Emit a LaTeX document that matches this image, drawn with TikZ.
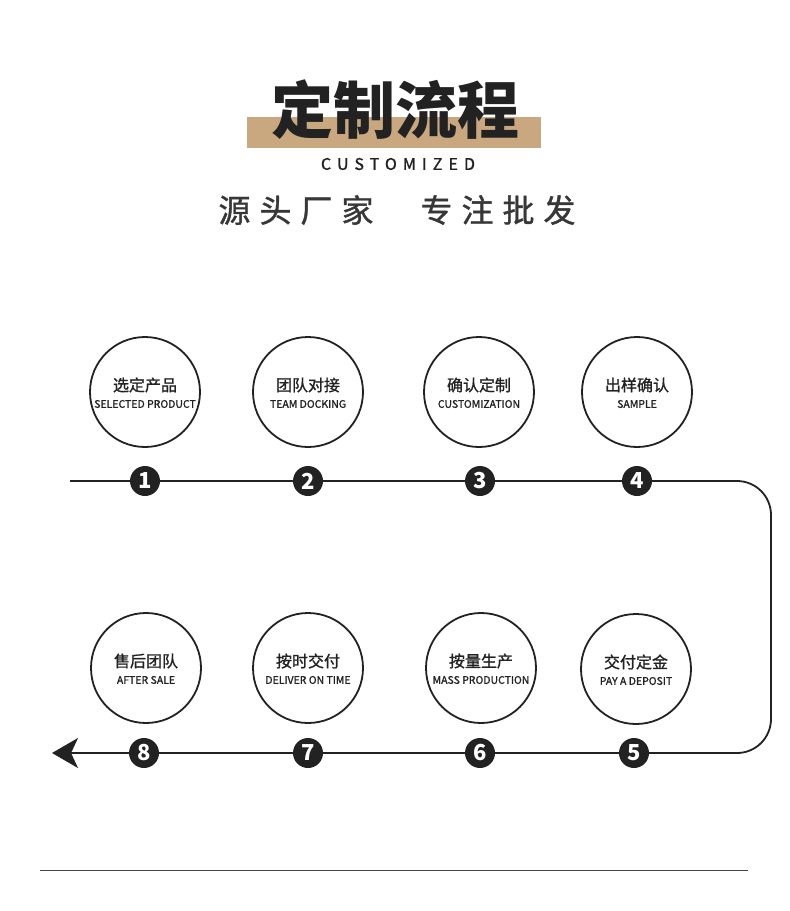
\documentclass[tikz,border=0pt]{standalone}
\usepackage{fontspec}
\usetikzlibrary{arrows.meta}
\newfontfamily\cjk{Noto Sans CJK SC}
\newfontfamily\cjkm[FakeBold=1.2]{Noto Sans CJK SC}
\definecolor{tan}{RGB}{201,168,128}
\definecolor{ink}{RGB}{34,34,34}
\definecolor{sub}{RGB}{55,55,55}
\tikzset{
  stepcircle/.style={circle,draw=ink,line width=1.8pt,minimum size=110pt,inner sep=0pt},
  cnlabel/.style={font=\cjkm\fontsize{16}{16}\selectfont,text=ink,inner sep=0pt},
  enlabel/.style={font=\cjkm\fontsize{10.5}{10.5}\selectfont,text=ink,inner sep=0pt},
  marker/.style={circle,fill=ink,minimum size=30pt,inner sep=0pt,text=white,font=\cjk\bfseries\fontsize{22}{22}\selectfont},
  flow/.style={draw=ink,line width=1.8pt}
}
\begin{document}
\begin{tikzpicture}[x=1pt,y=-1pt]
\useasboundingbox (0,0) rectangle (790,911);
\fill[white] (0,0) rectangle (790,911);
% title
\fill[tan] (247,117) rectangle (541,148);
\node[font=\cjk\bfseries\fontsize{62}{62}\selectfont,text=ink,inner sep=0pt] (title) at (395,110) {定制流程};
\node[font=\cjkm\fontsize{16}{16}\selectfont\addfontfeature{LetterSpace=38},text=ink,inner sep=0pt] (custom) at (398,164) {CUSTOMIZED};
\node[font=\cjkm\fontsize{32}{32}\selectfont,text=sub,inner sep=0pt] (sub1) at (296,210) {源\hspace{9pt}头\hspace{9pt}厂\hspace{9pt}家};
\node[font=\cjkm\fontsize{32}{32}\selectfont,text=sub,inner sep=0pt] (sub2) at (498,210) {专\hspace{9pt}注\hspace{9pt}批\hspace{9pt}发};
% circles top row
\node[stepcircle] (c1) at (145,392) {};
\node[stepcircle] (c2) at (308,392) {};
\node[stepcircle] (c3) at (479,392) {};
\node[stepcircle] (c4) at (637,392) {};
% circles bottom row
\node[stepcircle] (c8) at (146,668) {};
\node[stepcircle] (c7) at (308,668) {};
\node[stepcircle] (c6) at (481,668) {};
\node[stepcircle] (c5) at (636,669) {};
% labels
\node[cnlabel] (t1a) at ([yshift=7pt]c1.center) {选定产品};
\node[enlabel] (t1b) at ([yshift=-12pt]c1.center) {SELECTED PRODUCT};
\node[cnlabel] (t2a) at ([yshift=7pt]c2.center) {团队对接};
\node[enlabel] (t2b) at ([yshift=-12pt]c2.center) {TEAM DOCKING};
\node[cnlabel] (t3a) at ([yshift=7pt]c3.center) {确认定制};
\node[enlabel] (t3b) at ([yshift=-12pt]c3.center) {CUSTOMIZATION};
\node[cnlabel] (t4a) at ([yshift=7pt]c4.center) {出样确认};
\node[enlabel] (t4b) at ([yshift=-12pt]c4.center) {SAMPLE};
\node[cnlabel] (t5a) at ([yshift=7pt]c5.center) {交付定金};
\node[enlabel] (t5b) at ([yshift=-12pt]c5.center) {PAY A DEPOSIT};
\node[cnlabel] (t6a) at ([yshift=7pt]c6.center) {按量生产};
\node[enlabel] (t6b) at ([yshift=-12pt]c6.center) {MASS PRODUCTION};
\node[cnlabel] (t7a) at ([yshift=7pt]c7.center) {按时交付};
\node[enlabel] (t7b) at ([yshift=-12pt]c7.center) {DELIVER ON TIME};
\node[cnlabel] (t8a) at ([yshift=7pt]c8.center) {售后团队};
\node[enlabel] (t8b) at ([yshift=-12pt]c8.center) {AFTER SALE};
% markers
\node[marker] (m1) at (145,481) {1};
\node[marker] (m2) at (308,481) {2};
\node[marker] (m3) at (480,481) {3};
\node[marker] (m4) at (637,481) {4};
\node[marker] (m5) at (634,753) {5};
\node[marker] (m6) at (480,753) {6};
\node[marker] (m7) at (308,753) {7};
\node[marker] (m8) at (144,753) {8};
\coordinate (start) at (70,481);
\coordinate (cornerA) at (771,481);
\coordinate (cornerB) at (771,753);
\coordinate (tip) at (52,753);
% flow line
\path[flow] (start) -- (m1) -- (m2) -- (m3) -- (m4);
\path[flow,rounded corners=34pt] (m4.east) -- (cornerA) -- (cornerB) -- (m5.east);
\path[flow] (m5) -- (m6) -- (m7) -- (m8);
\path[flow,-{Stealth[length=26pt,width=30pt,inset=7pt]}] (m8.west) -- (tip);
% bottom rule
\coordinate (ruleL) at (40,870);
\coordinate (ruleR) at (748,870);
\draw[ink!85,line width=1pt] (ruleL) -- (ruleR);
\end{tikzpicture}
\end{document}
